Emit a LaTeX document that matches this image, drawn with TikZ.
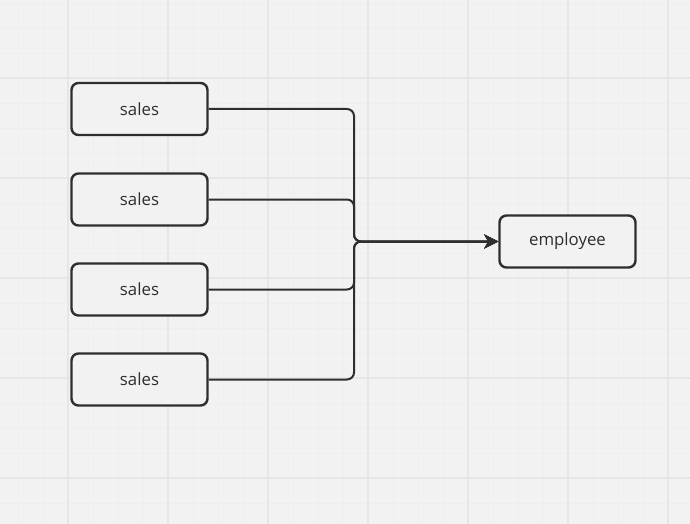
\documentclass[tikz,border=0pt]{standalone}
\usepackage{fontspec}
\setmainfont{Open Sans}
\usetikzlibrary{arrows.meta}
\definecolor{bg}{HTML}{F2F2F2}
\definecolor{gridminor}{HTML}{EEEEEE}
\definecolor{gridmajor}{HTML}{E6E6E6}
\definecolor{ink}{HTML}{2E2E2E}
\begin{document}
\begin{tikzpicture}[x=1pt,y=-1pt,
  box/.style={draw=ink,line width=2.4pt,rounded corners=7pt,minimum width=136pt,minimum height=52pt,inner sep=0pt,text=ink,font=\fontsize{16.8}{19}\selectfont,fill=bg},
  conn/.style={draw=ink,line width=2pt,rounded corners=7pt},
  arr/.style={conn,-{Stealth[length=14pt,width=14pt,inset=4pt]}}]
\fill[bg] (0,0) rectangle (690,524);
\useasboundingbox (0,0) rectangle (690,524);
\foreach \x in {18,43,...,690} \draw[gridminor,line width=0.8pt] (\x,0) -- (\x,524);
\foreach \y in {3,28,...,524} \draw[gridminor,line width=0.8pt] (0,\y) -- (690,\y);
\foreach \x in {68,168,...,690} \draw[gridmajor,line width=1.2pt] (\x,0) -- (\x,524);
\foreach \y in {78,178,...,524} \draw[gridmajor,line width=1.2pt] (0,\y) -- (690,\y);
\node[box] (s1) at (139.5,109) {sales};
\node[box] (s2) at (139.5,199.5) {sales};
\node[box] (s3) at (139.5,289.5) {sales};
\node[box] (s4) at (139.5,379.5) {sales};
\node[box] (e) at (567.5,241.5) {employee};
\coordinate (j) at (354,241.5);
\draw[arr] (s1.east) -| (j) -- (e.west);
\draw[arr] (s2.east) -| (j) -- (e.west);
\draw[arr] (s3.east) -| (j) -- (e.west);
\draw[arr] (s4.east) -| (j) -- (e.west);
\end{tikzpicture}
\end{document}
